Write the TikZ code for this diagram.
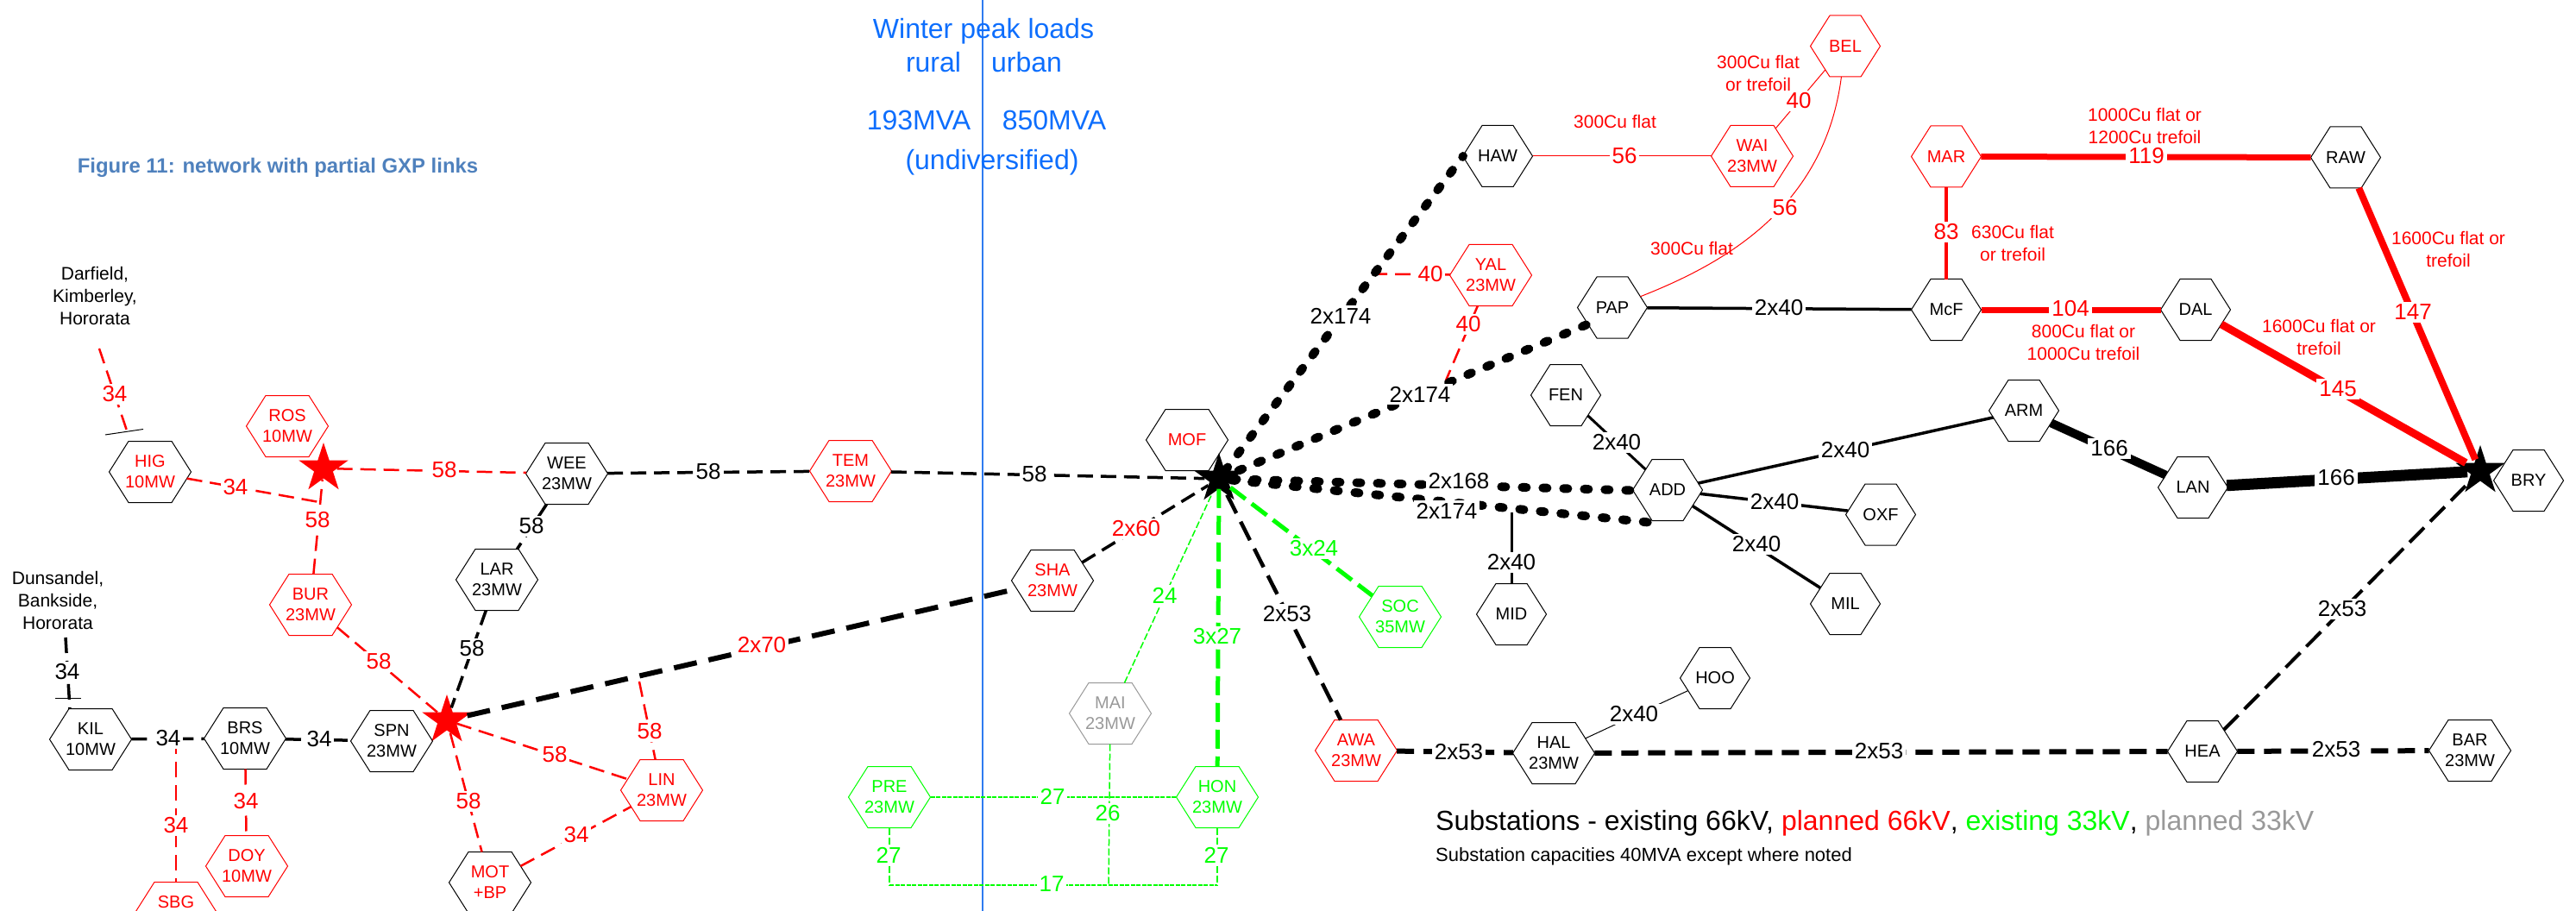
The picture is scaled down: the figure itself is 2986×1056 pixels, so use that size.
\documentclass[tikz,border=0pt]{standalone}
\usepackage{fontspec}
\setmainfont{Liberation Sans}
\usetikzlibrary{shapes.geometric}
\definecolor{rd}{HTML}{FF0000}
\definecolor{gr}{HTML}{00FF00}
\definecolor{gy}{HTML}{999999}
\definecolor{bl}{HTML}{0D6EFD}
\definecolor{vln}{HTML}{2F7BF0}
\definecolor{capt}{HTML}{4F81BD}
\makeatletter
\pgfdeclareshape{hexa}{
  \inheritsavedanchors[from=rectangle]
  \inheritanchor[from=rectangle]{center}
  \inheritanchor[from=rectangle]{north}
  \inheritanchor[from=rectangle]{south}
  \inheritanchor[from=rectangle]{east}
  \inheritanchor[from=rectangle]{west}
  \inheritanchor[from=rectangle]{base}
  \backgroundpath{
    \southwest \pgf@xa=\pgf@x \pgf@ya=\pgf@y
    \northeast \pgf@xb=\pgf@x \pgf@yb=\pgf@y
    \pgf@yc=.5\pgf@ya \advance\pgf@yc by .5\pgf@yb
    \pgfpathmoveto{\pgfqpoint{\pgf@xa}{\pgf@yc}}
    \pgfpathlineto{\pgfqpoint{\dimexpr\pgf@xa+22.5pt\relax}{\pgf@yb}}
    \pgfpathlineto{\pgfqpoint{\dimexpr\pgf@xb-22.5pt\relax}{\pgf@yb}}
    \pgfpathlineto{\pgfqpoint{\pgf@xb}{\pgf@yc}}
    \pgfpathlineto{\pgfqpoint{\dimexpr\pgf@xb-22.5pt\relax}{\pgf@ya}}
    \pgfpathlineto{\pgfqpoint{\dimexpr\pgf@xa+22.5pt\relax}{\pgf@ya}}
    \pgfpathclose
  }
  \anchorborder{
    \edef\hx@dx{\the\pgf@x}\edef\hx@dy{\the\pgf@y}
    \southwest \pgf@xa=\pgf@x \pgf@ya=\pgf@y
    \northeast \pgf@xb=\pgf@x \pgf@yb=\pgf@y
    \pgf@xc=.5\pgf@xb \advance\pgf@xc by -.5\pgf@xa
    \pgf@yc=.5\pgf@yb \advance\pgf@yc by -.5\pgf@ya
    \edef\hx@w{\the\pgf@xc}\edef\hx@h{\the\pgf@yc}
    \pgf@xc=.5\pgf@xb \advance\pgf@xc by .5\pgf@xa
    \pgf@yc=.5\pgf@yb \advance\pgf@yc by .5\pgf@ya
    \edef\hx@cx{\the\pgf@xc}\edef\hx@cy{\the\pgf@yc}
    \pgfmathparse{min(\hx@h/(abs(\hx@dy)+0.01), \hx@w/(abs(\hx@dx)+abs(\hx@dy)*22.5/\hx@h+0.01))}
    \let\hx@t\pgfmathresult
    \pgfmathparse{\hx@t*\hx@dx}\let\hx@rx\pgfmathresult
    \pgfmathparse{\hx@t*\hx@dy}\let\hx@ry\pgfmathresult
    \pgf@x=\hx@rx pt \advance\pgf@x by \hx@cx
    \pgf@y=\hx@ry pt \advance\pgf@y by \hx@cy
  }
}
\makeatother
\tikzset{
 hexbase/.style={shape=hexa, inner sep=0pt, minimum height=70pt, align=center, draw=black, line width=1pt, font=\fontsize{20}{24}\selectfont},
 hexw/.style={hexbase, minimum width=94pt},
 hexn/.style={hexbase, minimum width=80pt},
 bigstar/.style={star, star points=5, star point ratio=2.618, minimum size=60pt, inner sep=0pt, draw=none},
 lab/.style={fill=white, inner sep=3pt, font=\fontsize{26}{26}\selectfont},
 note/.style={align=center, font=\fontsize{21}{26}\selectfont},
 dlight/.style={line width=2.5pt, dash pattern=on 18pt off 9pt},
 dblack/.style={line width=3.5pt, dash pattern=on 18pt off 9pt},
 dmed/.style={line width=4.5pt, dash pattern=on 24pt off 11pt},
 dheavy/.style={line width=6pt, dash pattern=on 27pt off 14pt},
 dots/.style={line width=10pt, line cap=round, dash pattern=on 5pt off 19pt},
 gthin/.style={gr, line width=1.5pt, dash pattern=on 8pt off 3pt},
 gdense/.style={gr, line width=2pt, dash pattern=on 5pt off 1.5pt},
 gthick/.style={gr, line width=5pt, dash pattern=on 22pt off 9pt},
}
\begin{document}
\begin{tikzpicture}[x=1pt,y=-1pt]
\path[use as bounding box, clip] (0,0) rectangle (2986,1056);
\draw[vln, line width=1.3pt] (1139,0) coordinate (vt) -- (1139,1056) coordinate (vb);

% titles
\begin{scope}[every node/.style={text=bl, font=\fontsize{32}{32}\selectfont, inner sep=0pt}]
\node (t1) at (1140,36) {Winter peak loads};
\node (t2) at (1082,72) {rural};
\node (t3) at (1190,72) {urban};
\node (t4) at (1065,139) {193MVA};
\node (t5) at (1222,139) {850MVA};
\node (t6) at (1150,188) {(undiversified)};
\end{scope}
\node[text=capt, font=\bfseries\fontsize{23.9}{26}\selectfont, inner sep=0pt] (cap) at (322,194) {Figure 11: network with partial GXP links};
\node[note] (dar) at (110,343) {Darfield,\\Kimberley,\\Hororata};
\node[note] (dun) at (67,696) {Dunsandel,\\Bankside,\\Hororata};

% stars
\node[bigstar, fill=rd] (S1) at (518,835) {};
\node[bigstar, fill=rd] (S2) at (375,543) {};
\node[bigstar, fill=black] (S3) at (1413,555) {};
\node[bigstar, fill=black] (S4) at (2875,546) {};

% hexagons
\node[hexw, text=rd] (HIG) at (174,547) {HIG\\10MW};
\node[hexw, draw=rd, text=rd] (ROS) at (333,494) {ROS\\10MW};
\node[hexw] (WEE) at (657,549) {WEE\\23MW};
\node[hexw, draw=rd, text=rd] (TEM) at (986,546) {TEM\\23MW};
\node[hexw] (KIL) at (105,857) {KIL\\10MW};
\node[hexw] (BRS) at (284,856) {BRS\\10MW};
\node[hexw] (SPN) at (454,859) {SPN\\23MW};
\node[hexw, draw=rd, text=rd] (BUR) at (360,701) {BUR\\23MW};
\node[hexw] (LAR) at (576,672) {LAR\\23MW};
\node[hexw, draw=rd, text=rd] (LIN) at (767,916) {LIN\\23MW};
\node[hexw, draw=rd, text=rd] (DOY) at (286,1004) {DOY\\10MW};
\node[hexw, draw=rd, text=rd] (SBG) at (204,1058) {SBG\\\phantom{0}};
\node[hexw, text=rd] (MOT) at (568,1023) {MOT\\+BP};
\node[hexw, text=rd] (SHA) at (1220,673) {SHA\\23MW};
\node[hexw, text=rd] (MOF) at (1376,510) {MOF};
\node[hexw, draw=gy, text=gy] (MAI) at (1287,827) {MAI\\23MW};
\node[hexw, draw=gr, text=gr] (PRE) at (1031,924) {PRE\\23MW};
\node[hexw, draw=gr, text=gr] (HON) at (1411,924) {HON\\23MW};
\node[hexw, draw=gr, text=gr] (SOC) at (1623,715) {SOC\\35MW};
\node[hexw, draw=rd, text=rd] (AWA) at (1572,870) {AWA\\23MW};
\node[hexw] (HAL) at (1801,873) {HAL\\23MW};
\node[hexn] (MID) at (1752,712) {MID};
\node[hexn] (HEA) at (2553,871) {HEA};
\node[hexw] (BAR) at (2863,870) {BAR\\23MW};
\node[hexn] (HOO) at (1988,786) {HOO};
\node[hexn] (MIL) at (2139,700) {MIL};
\node[hexn] (HAW) at (1736,181) {HAW};
\node[hexw, draw=rd, text=rd] (WAI) at (2031,181) {WAI\\23MW};
\node[hexn, draw=rd, text=rd] (BEL) at (2139,53.5) {BEL};
\node[hexw, draw=rd, text=rd] (YAL) at (1728,319) {YAL\\23MW};
\node[hexn] (PAP) at (1869,356.5) {PAP};
\node[hexn] (FEN) at (1815,458) {FEN};
\node[hexn] (ADD) at (1933,568) {ADD};
\node[hexn] (OXF) at (2180,596.5) {OXF};
\node[hexn, draw=rd, text=rd] (MAR) at (2256,181.5) {MAR};
\node[hexn] (RAW) at (2719,182.5) {RAW};
\node[hexn] (McF) at (2256,359) {McF};
\node[hexn] (DAL) at (2545,359) {DAL};
\node[hexn] (ARM) at (2346,476) {ARM};
\node[hexn] (LAN) at (2542,565) {LAN};
\node[hexn] (BRY) at (2931,557) {BRY};

% free ends and junctions
\coordinate (darf) at (115,404);
\coordinate (higt) at (149,505);
\coordinate (tk1a) at (122,504);
\coordinate (tk1b) at (166,497.5);
\coordinate (dunb) at (76,739);
\coordinate (kilt) at (81,822);
\coordinate (tk2a) at (64,809);
\coordinate (tk2b) at (94,809);
\coordinate (jbur) at (370,582);
\coordinate (jsbg) at (204,856);
\coordinate (jlin) at (741,790);
\coordinate (jyal) at (1590,317.5);
\coordinate (jyal2) at (1676,441);
\coordinate (jmid) at (1752,594);
\coordinate (addlow) at (1916,606);
\coordinate (addup) at (1892,568.5);
\coordinate (hawl) at (1696,181);
\coordinate (papl) at (1840,376);
\coordinate (bp) at (1031,1026);
\coordinate (bm) at (1285,1026);
\coordinate (bh) at (1411,1026);

% red dashed
\begin{scope}[rd]
\draw[dlight] (darf) -- (higt);
\draw[dlight] (HIG) -- (jbur);
\draw[dlight] (BUR) -- (S2);
\draw[dlight] (S2) -- (WEE);
\draw[dlight] (BUR) -- (S1);
\draw[dlight] (S1) -- (LIN);
\draw[dlight] (S1) -- (MOT);
\draw[dlight] (MOT) -- (LIN);
\draw[dlight] (jlin) -- (LIN);
\draw[dlight] (BRS) -- (DOY);
\draw[dlight] (jsbg) -- (SBG);
\draw[dlight] (jyal) -- (YAL);
\draw[dlight] (YAL) -- (jyal2);
\end{scope}
% black dashed
\draw[dblack] (WEE) -- (TEM);
\draw[dblack] (TEM) -- (S3);
\draw[dblack] (WEE) -- (LAR);
\draw[dblack] (LAR) -- (S1);
\draw[dblack] (KIL) -- (BRS);
\draw[dblack] (BRS) -- (SPN);
\draw[dblack] (dunb) -- (kilt);
\draw[dblack] (SHA) -- (S3);
\draw[dheavy] (S1) -- (SHA);
\draw[dmed] (S3) -- (AWA);
\draw[dheavy, dash pattern=on 20pt off 11pt] (AWA) -- (HAL);
\draw[dheavy, dash pattern=on 20pt off 11pt] (HAL) -- (HEA);
\draw[dheavy, dash pattern=on 20pt off 11pt] (HEA) -- (BAR);
\draw[line width=4pt, dash pattern=on 24pt off 10pt] (HEA) -- (S4);
% ticks
\draw[line width=1pt] (tk1a) -- (tk1b);
\draw[line width=1pt] (tk2a) -- (tk2b);
% heavy dots
\draw[dots] (S3) -- (hawl);
\draw[dots] (S3) -- (papl);
\draw[dots] (S3) -- (addup);
\draw[dots] (S3) -- (addlow);
% solid black
\draw[line width=3.5pt] (PAP) -- (McF);
\draw[line width=3.5pt] (ADD) -- (ARM);
\draw[line width=3.5pt] (ADD) -- (OXF);
\draw[line width=3.5pt] (ADD) -- (MIL);
\draw[line width=3pt] (FEN) -- (ADD);
\draw[line width=3pt] (jmid) -- (MID);
\draw[line width=1pt] (HAL) -- (HOO);
\draw[line width=10pt] (ARM) -- (LAN);
\draw[line width=13pt] (LAN) -- (S4);
% solid red
\begin{scope}[rd]
\draw[line width=1pt] (HAW) -- (WAI);
\draw[line width=1pt] (WAI) -- (BEL);
\draw[line width=1pt] (PAP) .. controls (2000,305) and (2115,240) .. (BEL);
\draw[line width=7pt] (MAR) -- (RAW);
\draw[line width=3.5pt] (MAR) -- (McF);
\draw[line width=7pt] (McF) -- (DAL);
\draw[line width=9pt] (DAL) -- (S4);
\draw[line width=8pt] (RAW) -- (S4);
\end{scope}
% green
\draw[gthin] (MAI) -- (S3);
\draw[gthick] (S3) -- (HON);
\draw[gthick] (S3) -- (SOC);
\draw[gdense] (PRE) -- (HON);
\draw[gthin] (MAI) -- (bm);
\draw[gthin] (PRE) -- (bp);
\draw[gthin] (HON) -- (bh);
\draw[gdense] (bp) -- (bh);

% labels: red
\begin{scope}[every node/.append style={lab, text=rd}]
\node (a1) at (133,457) {34};
\node (a2) at (273,565) {34};
\node (a3) at (368,603) {58};
\node (a4) at (515,545) {58};
\node (a5) at (439,767) {58};
\node (a6) at (643,875) {58};
\node (a7) at (543,929) {58};
\node (a8) at (668,968) {34};
\node (a9) at (753,848) {58};
\node (a10) at (883,748) {2x70};
\node (a11) at (1317,613) {2x60};
\node (a12) at (285,929) {34};
\node (a13) at (204,957) {34};
\node (a14) at (2085,117) {40};
\node (a15) at (1883,181) {56};
\node (a16) at (2069,241) {56};
\node (a17) at (1658,317.5) {40};
\node (a18) at (1702,376) {40};
\node (a19) at (2488,181) {119};
\node (a20) at (2256,269) {83};
\node (a21) at (2400,358) {104};
\node (a22) at (2797,362) {147};
\node (a23) at (2710,451) {145};
\end{scope}
% labels: black
\begin{scope}[every node/.append style={lab}]
\node (b1) at (821,547) {58};
\node (b2) at (1199,550) {58};
\node (b3) at (616,610) {58};
\node (b4) at (547,752) {58};
\node (b5) at (195,856) {34};
\node (b6) at (370,857) {34};
\node (b7) at (78,779) {34};
\node (b8) at (1492,712) {2x53};
\node (b9) at (1691,872) {2x53};
\node (b10) at (2178,871) {2x53};
\node (b11) at (2708,869) {2x53};
\node (b12) at (2715,706) {2x53};
\node (b13) at (1894,828) {2x40};
\node (b14) at (1554,366.5) {2x174};
\node (b15) at (1646,457) {2x174};
\node (b16) at (2062,357) {2x40};
\node (b17) at (1874,513) {2x40};
\node (b18) at (1691,558) {2x168};
\node (b19) at (1677,592) {2x174};
\node (b20) at (1752,652) {2x40};
\node (b21) at (2139,522) {2x40};
\node (b22) at (2057,582) {2x40};
\node (b23) at (2036,631) {2x40};
\node (b24) at (2445,520) {166};
\node (b25) at (2708,554) {166};
\end{scope}
% labels: green
\begin{scope}[every node/.append style={lab, text=gr}]
\node (c1) at (1350,690) {24};
\node (c2) at (1411,738) {3x27};
\node (c3) at (1523,636) {3x24};
\node (c4) at (1284,943) {26};
\node (c5) at (1220,923) {27};
\node (c6) at (1030,991) {27};
\node (c7) at (1410,991) {27};
\node (c8) at (1219,1025) {17};
\end{scope}
% cable notes
\begin{scope}[every node/.append style={note, text=rd}]
\node (n1) at (2038,85) {300Cu flat\\or trefoil};
\node (n2) at (1872,141) {300Cu flat};
\node (n3) at (1961,288) {300Cu flat};
\node (n4) at (2486,146) {1000Cu flat or\\1200Cu trefoil};
\node (n5) at (2333,282) {630Cu flat\\or trefoil};
\node (n6) at (2415,396.5) {800Cu flat or\\1000Cu trefoil};
\node (n7) at (2838,288.5) {1600Cu flat or\\trefoil};
\node (n8) at (2688,390.5) {1600Cu flat or\\trefoil};
\end{scope}
% legend
\node[anchor=west, inner sep=0pt, font=\fontsize{32}{32}\selectfont] (leg1) at (1664,954) {Substations - existing 66kV, \textcolor{rd}{planned 66kV}, \textcolor{gr}{existing 33kV}, \textcolor{gy}{planned 33kV}};
\node[anchor=west, inner sep=0pt, font=\fontsize{22}{22}\selectfont] (leg2) at (1664,993) {Substation capacities 40MVA except where noted};
\end{tikzpicture}
\end{document}
